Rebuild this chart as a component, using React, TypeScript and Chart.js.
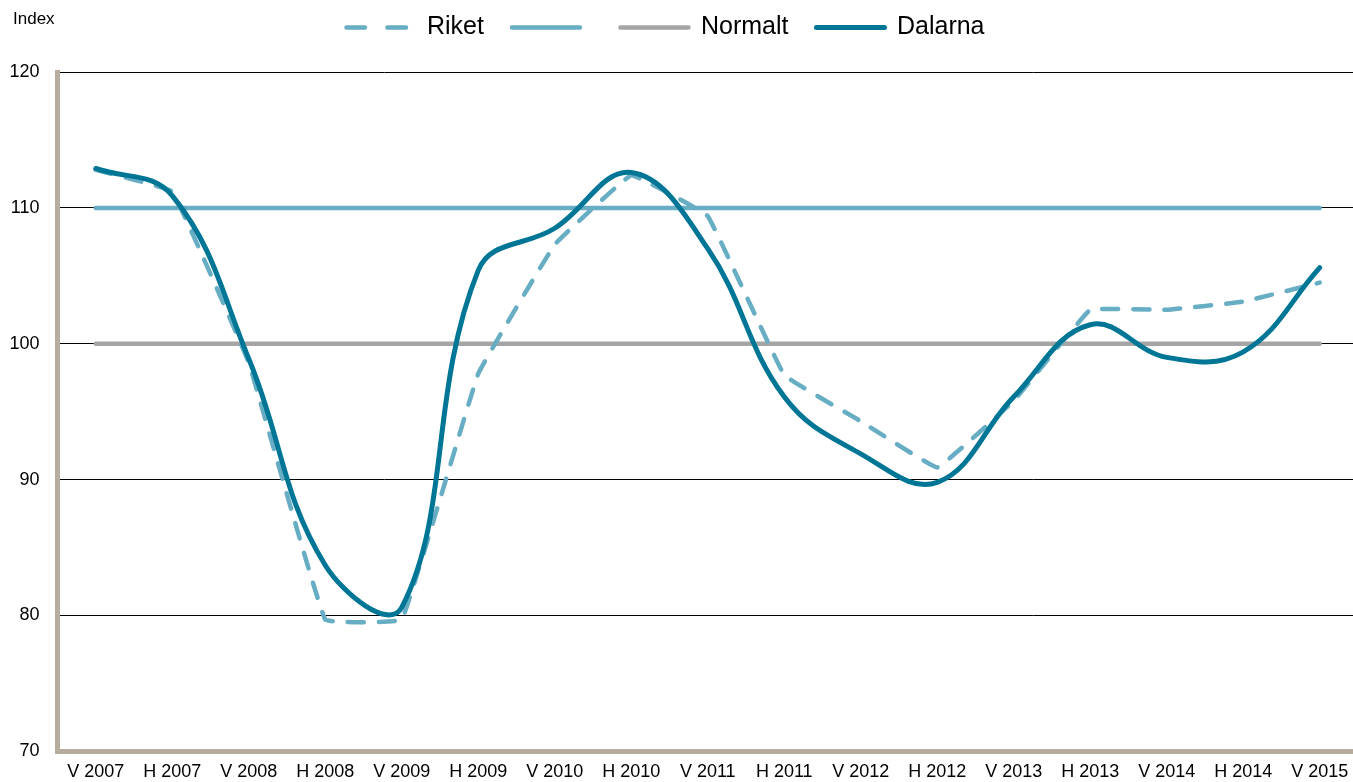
import React, { useEffect, useRef } from 'react';
import { Chart, registerables } from 'chart.js';

Chart.register(...registerables);

const categories = [
  'V 2007', 'H 2007', 'V 2008', 'H 2008', 'V 2009', 'H 2009', 'V 2010', 'H 2010', 'V 2011',
  'H 2011', 'V 2012', 'H 2012', 'V 2013', 'H 2013', 'V 2014', 'H 2014', 'V 2015',
];
const riket = [112.8, 111.2, 98.6, 79.7, 79.7, 97.8, 107.3, 112.4, 109.4, 97.7, 94.3, 90.9, 95.8, 102.5, 102.5, 103.1, 104.5];
const upperLine = [110, 110, 110, 110, 110, 110, 110, 110, 110, 110, 110, 110, 110, 110, 110, 110, 110];
const normalt = [100, 100, 100, 100, 100, 100, 100, 100, 100, 100, 100, 100, 100, 100, 100, 100, 100];
const dalarna = [112.9, 110.9, 98.9, 83.7, 80.6, 105.4, 108.5, 112.6, 107.0, 96.1, 91.9, 89.8, 96.1, 101.4, 99.0, 99.4, 105.6];
const yMin = 70;
const yMax = 120;
const yStep = 10;
const axisTitle = 'Index';

const FONT = '"Liberation Sans", Arial, sans-serif';
const LIGHT = '#67adc3';
const DARK = '#007696';
const GREY = '#a5a5a5';
const TAN = '#b7ad9e';

export default function App() {
  const ref = useRef<HTMLCanvasElement | null>(null);

  useEffect(() => {
    if (!ref.current) return;
    const indexLabel = {
      id: 'indexLabel',
      afterDraw(chart: any) {
        const ctx = chart.ctx;
        ctx.save();
        ctx.font = `17px ${FONT}`;
        ctx.fillStyle = '#000';
        ctx.textAlign = 'left';
        ctx.textBaseline = 'middle';
        ctx.fillText(axisTitle, 13, 32);
        ctx.restore();
      },
    };
    const legendShift = {
      id: 'legendShift',
      afterLayout(chart: any) {
        if (chart.legend) chart.legend.right -= 27;
      },
    };
    const chart = new Chart(ref.current, {
      type: 'line',
      data: {
        labels: categories,
        datasets: [
          {
            label: 'Riket',
            data: riket,
            borderColor: LIGHT,
            backgroundColor: LIGHT,
            borderWidth: 4.5,
            borderDash: [16, 15],
            borderCapStyle: 'round',
            tension: 0.06,
            pointRadius: 0,
            order: 1,
          },
          {
            label: '',
            data: upperLine,
            borderColor: LIGHT,
            backgroundColor: LIGHT,
            borderWidth: 4.5,
            borderCapStyle: 'round',
            tension: 0,
            pointRadius: 0,
            order: 3,
          },
          {
            label: 'Normalt',
            data: normalt,
            borderColor: GREY,
            backgroundColor: GREY,
            borderWidth: 4.5,
            borderCapStyle: 'round',
            tension: 0,
            pointRadius: 0,
            order: 2,
          },
          {
            label: 'Dalarna',
            data: dalarna,
            borderColor: DARK,
            backgroundColor: DARK,
            borderWidth: 5,
            borderCapStyle: 'round',
            tension: 0.4,
            pointRadius: 0,
            order: 0,
          },
        ],
      },
      options: {
        animation: false,
        responsive: true,
        maintainAspectRatio: false,
        layout: { padding: { left: 0, right: 2, top: 0, bottom: 0 } },
        plugins: {
          title: {
            display: true,
            text: '',
            padding: 0,
            font: { size: 20, lineHeight: 1.1 },
            weight: 500,
          } as any,
          tooltip: { enabled: false },
          legend: {
            display: true,
            position: 'top',
            labels: {
              usePointStyle: true,
              pointStyle: 'line',
              pointStyleWidth: 68,
              padding: 28,
              color: '#000',
              font: { family: FONT, size: 25 },
              sort: (a: any, b: any) => a.datasetIndex - b.datasetIndex,
              generateLabels: (c: any) => {
                const items = Chart.defaults.plugins.legend.labels.generateLabels(c);
                items.forEach((it: any) => {
                  if (it.datasetIndex === 0) it.lineDash = [18.5, 22.5];
                  it.lineCap = 'round';
                });
                return items;
              },
            },
          },
        },
        scales: {
          x: {
            type: 'category',
            offset: true,
            grid: { display: false, drawTicks: false },
            border: { display: true, color: TAN, width: 5 },
            ticks: {
              color: '#000',
              font: { family: FONT, size: 18 },
              padding: 10,
              maxRotation: 0,
              autoSkip: false,
            },
          },
          y: {
            min: yMin,
            max: yMax,
            afterFit: (s: any) => {
              s.width = 57.5;
            },
            grid: {
              drawTicks: false,
              lineWidth: 1,
              color: (ctx: any) => (ctx.tick && ctx.tick.value === yMin ? 'rgba(0,0,0,0)' : '#000'),
            },
            border: { display: true, color: TAN, width: 5 },
            ticks: {
              stepSize: yStep,
              color: '#000',
              font: { family: FONT, size: 18 },
              padding: 18,
            },
          },
        },
      },
      plugins: [indexLabel, legendShift],
    });
    return () => chart.destroy();
  }, []);

  return (
    <div style={{ position: 'fixed', left: 0, top: -13, width: 1360, height: 806 }}>
      <canvas ref={ref} />
    </div>
  );
}
